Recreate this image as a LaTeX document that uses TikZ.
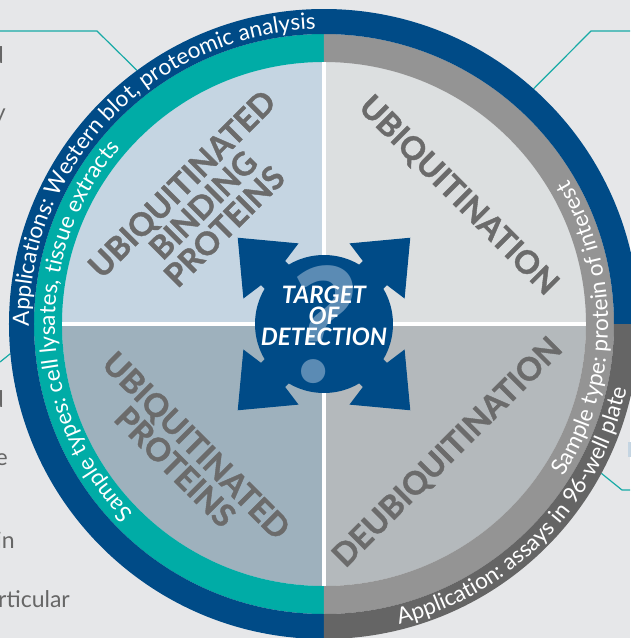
\documentclass[tikz,border=0pt]{standalone}
\usepackage{fontspec}
\setmainfont{Lato}
\newfontfamily\headfont{Lato}[BoldFeatures={FakeBold=1.2}]
\usepackage{xcolor}
\usepackage{tikz}
\usetikzlibrary{positioning,calc,decorations.text}

\definecolor{bggray}{HTML}{E6E7E9}
\definecolor{ringblue}{HTML}{004B87}
\definecolor{ringteal}{HTML}{00ACA6}
\definecolor{ringgray}{HTML}{949494}
\definecolor{ringdark}{HTML}{656565}
\definecolor{quadtl}{HTML}{C5D5E2}
\definecolor{quadtr}{HTML}{DCDFE0}
\definecolor{quadbl}{HTML}{9EB1BD}
\definecolor{quadbr}{HTML}{B4B9BC}
\definecolor{headgray}{HTML}{6B6B6B}
\definecolor{qblue}{HTML}{5B8BB4}
\definecolor{leadteal}{HTML}{17AAA6}
\definecolor{sidegray}{HTML}{666666}

\newcommand{\ringfont}{\fontsize{22.5}{22.5}\selectfont}
% annular sector: colour, start angle, end angle, inner radius, outer radius
\newcommand{\ringpart}[5]{\fill[#1] (#2:#4) arc[start angle=#2, end angle=#3, radius=#4pt] -- (#3:#5) arc[start angle=#3, end angle=#2, radius=#5pt] -- cycle;}

\tikzset{
  heading/.style={text=headgray, font=\headfont\fontsize{32}{30}\selectfont\bfseries, align=center, inner sep=0pt},
  centertext/.style={text=white, font=\fontsize{24}{24}\selectfont\bfseries\itshape, anchor=base, inner sep=0pt},
  ringtext/.style={decorate, decoration={text along path, text align=center, text color=white, text={|\ringfont|#1}}},
  leader/.style={draw=leadteal, line width=1.2pt},
  sidetext/.style={text=sidegray, font=\fontsize{23}{27}\selectfont, anchor=base east, inner sep=0pt},
}

\begin{document}
\begin{tikzpicture}[x=1pt, y=1pt]
    % Background
    \fill[bggray] (-324,-314) rectangle (306,324);
    \useasboundingbox (-324,-314) rectangle (306,324);

    % Leaders
    \coordinate (tlA) at (-324,293); \coordinate (tlB) at (-227,293); \coordinate (tlC) at (126.4:315);
    \coordinate (trA) at (306,293); \coordinate (trB) at (267,293); \coordinate (trC) at (48.3:315);
    \coordinate (blA) at (-324,-38); \coordinate (blC) at (185.4:315);
    \coordinate (brA) at (306,-166); \coordinate (brB) at (298,-166); \coordinate (brC) at (-28.3:315);
    \draw[leader] (tlA) -- (tlB) -- (tlC);
    \draw[leader] (trA) -- (trB) -- (trC);
    \draw[leader] (blA) -- (blC);
    \draw[leader] (brA) -- (brB) -- (brC);
    \fill[quadtl] (304,-118) rectangle (310,-133);

    % Quadrants
    \fill[quadtl] (0,0) -- (180:262) arc[start angle=180, end angle=90, radius=262pt] -- cycle;
    \fill[quadtr] (0,0) -- (90:262) arc[start angle=90, end angle=0, radius=262pt] -- cycle;
    \fill[quadbr] (0,0) -- (0:262) arc[start angle=0, end angle=-90, radius=262pt] -- cycle;
    \fill[quadbl] (0,0) -- (270:262) arc[start angle=270, end angle=180, radius=262pt] -- cycle;

    % Rings
    \ringpart{ringteal}{90}{270}{262}{290}
    \ringpart{ringgray}{-90}{90}{262}{290}
    \ringpart{ringblue}{0}{270}{290}{315}
    \ringpart{ringdark}{-90}{0}{290}{315}

    % Cross
    \draw[white, line width=4pt] (-262,0) -- (262,0);
    \draw[white, line width=4pt] (0,-262) -- (0,262);

    % Target of detection
    \foreach \a in {45,135,225,315}
      \fill[ringblue, rotate=\a] (122,0) -- (75,39) -- (72,17) -- (40,17) -- (40,-17) -- (72,-17) -- (75,-39) -- cycle;
    \node[circle, fill=ringblue, minimum size=138pt, inner sep=0pt] (hub) at (0,0) {};
    \node[text=qblue, font=\fontsize{160}{160}\selectfont\bfseries\itshape, anchor=base, inner sep=0pt] (qmark) at (-4,-58) {?};
    \node[centertext] (tgt) at (0,21) {TARGET};
    \node[centertext] (tof) at (0,0) {OF};
    \node[centertext] (tdet) at (0,-21) {DETECTION};

    % Quadrant headings
    \node[heading, rotate=45] (ubp) at (-121,119) {UBIQUITINATED\\BINDING\\PROTEINS};
    \node[heading, rotate=-45] (ubq) at (134,128) {UBIQUITINATION};
    \node[heading, rotate=-45] (ubpr) at (-138,-132) {UBIQUITINATED\\PROTEINS};
    \node[heading, rotate=45] (deub) at (124,-129) {DEUBIQUITINATION};

    % Ring labels
    \path[ringtext={Applications: Western blot, proteomic analysis}] (216:295) arc[start angle=216, end angle=56, radius=295pt];
    \path[ringtext={Sample types: cell lysates, tissue extracts}] (262:269) arc[start angle=262, end angle=102, radius=269pt];
    \path[ringtext={Sample type: protein of interest}] (-81:284) arc[start angle=-81, end angle=79, radius=284pt];
    \path[ringtext={Application: assays in 96-well plate}] (-124:309.5) arc[start angle=-124, end angle=36, radius=309.5pt];

    % Side text
    \node[sidetext] (s1) at (-320,261) {d};
    \node[sidetext] (s2) at (-318,204) {y};
    \node[sidetext] (s3) at (-320,-83) {d};
    \node[sidetext] (s4) at (-316,-141) {e};
    \node[sidetext] (s5) at (-309,-224) {in};
    \node[sidetext] (s6) at (-254,-283) {rticular};
\end{tikzpicture}
\end{document}
